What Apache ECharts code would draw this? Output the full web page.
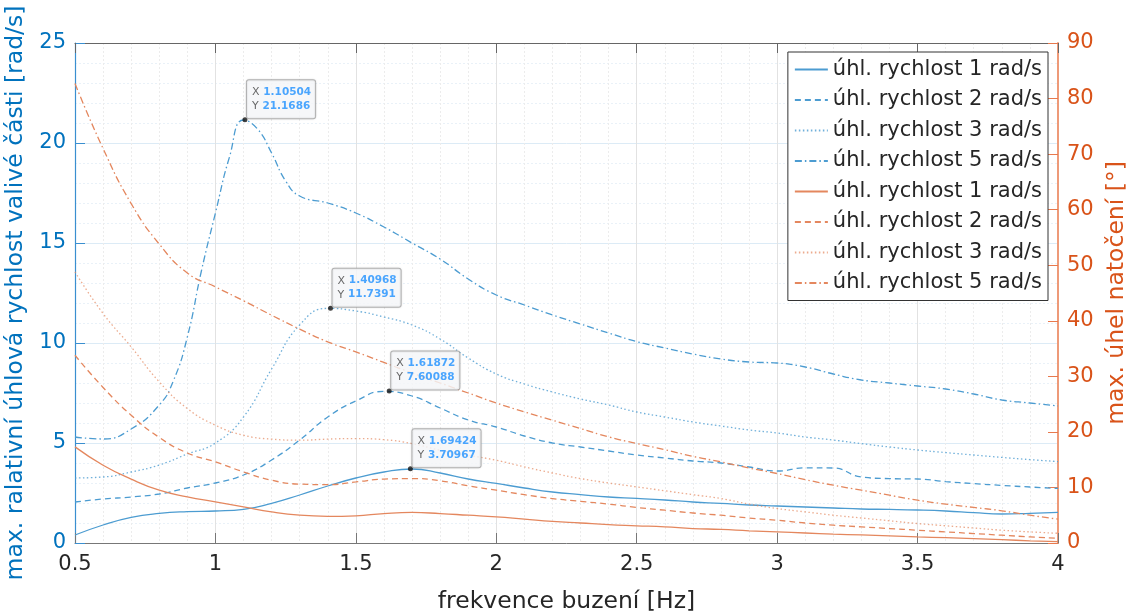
<!DOCTYPE html>
<html>
<head>
<meta charset="utf-8">
<script src="https://cdn.jsdelivr.net/npm/echarts@6/dist/echarts.min.js"></script>
<style>html,body{margin:0;padding:0;background:#fff;overflow:hidden}#c{width:1131px;height:615px}</style>
</head>
<body>
<div id="c"></div>
<script>
// frequency samples [Hz]
const freq = [0.5,0.6,0.7,0.8,0.9,1.0,1.1,1.2,1.3,1.4,1.5,1.6,1.7,1.8,1.9,2.0,2.1,2.2,2.3,2.4,2.5,2.6,2.7,2.8,2.9,3.0,3.1,3.2,3.3,3.4,3.5,3.6,3.7,3.8,3.9,4.0];
// denser samples for the sharp 5 rad/s resonance
const freq5 = [0.5,0.6,0.7,0.8,0.85,0.9,0.95,1.0,1.05,1.1,1.15,1.2,1.25,1.3,1.4,1.5,1.6,1.7,1.8,1.9,2.0,2.1,2.2,2.3,2.4,2.5,2.6,2.7,2.8,2.9,3.0,3.1,3.2,3.3,3.4,3.5,3.6,3.7,3.8,3.9,4.0];

// left axis: max relative angular velocity [rad/s]
const vel1 = [0.4,0.9,1.28,1.48,1.57,1.6,1.68,1.98,2.4,2.85,3.25,3.55,3.7,3.5,3.2,2.98,2.75,2.55,2.42,2.3,2.23,2.15,2.05,1.98,1.9,1.85,1.8,1.75,1.7,1.68,1.65,1.6,1.52,1.45,1.48,1.53];
const vel2 = [2.05,2.2,2.3,2.45,2.75,3.0,3.4,4.15,5.15,6.3,7.1,7.58,7.35,6.75,6.15,5.8,5.35,5.0,4.8,4.6,4.4,4.25,4.1,4.0,3.8,3.6,3.76,3.75,3.3,3.22,3.2,3.07,2.97,2.88,2.8,2.73];
const vel3 = [3.25,3.3,3.55,3.9,4.45,5.0,6.3,8.7,10.9,11.73,11.6,11.3,10.9,10.2,9.25,8.45,7.95,7.55,7.2,6.9,6.55,6.3,6.05,5.85,5.65,5.5,5.3,5.15,4.97,4.8,4.65,4.52,4.4,4.28,4.17,4.07];
const vel5 = [5.3,5.2,5.7,6.9,8.1,10.3,13.6,16.5,19.3,21.15,20.7,19.5,18.1,17.35,17.0,16.5,15.8,15.0,14.2,13.2,12.4,11.9,11.4,10.95,10.5,10.07,9.75,9.45,9.2,9.05,9.0,8.8,8.45,8.15,8.0,7.85,7.7,7.45,7.15,7.0,6.85];

// right axis: max rotation angle [deg]
const ang1 = [17.3,14.0,11.5,9.5,8.3,7.4,6.5,5.6,5.0,4.8,4.9,5.3,5.5,5.3,5.0,4.7,4.3,3.9,3.6,3.3,3.1,2.9,2.6,2.45,2.2,2.0,1.8,1.6,1.45,1.3,1.1,0.95,0.8,0.6,0.4,0.25];
const ang2 = [33.8,28.0,23.0,19.0,16.2,14.6,12.8,11.3,10.6,10.5,11.0,11.5,11.6,11.2,10.3,9.5,8.7,8.0,7.5,7.0,6.4,5.9,5.4,5.0,4.5,4.1,3.6,3.2,2.9,2.6,2.3,2.0,1.7,1.4,1.1,0.85];
const ang3 = [48.8,41.3,35.3,29.0,24.2,21.2,19.4,18.7,18.5,18.7,18.8,18.6,17.9,16.7,15.8,14.9,13.7,12.6,11.6,10.8,10.1,9.4,8.7,8.0,7.0,6.2,5.6,5.0,4.5,4.0,3.5,3.1,2.7,2.3,2.0,1.75];
const ang5 = [82.7,71.0,61.1,53.8,48.6,46.1,43.6,41.0,38.5,36.2,34.4,32.5,30.6,28.8,27.0,25.2,23.6,22.1,20.6,19.1,17.9,16.8,15.6,14.6,13.5,12.5,11.4,10.4,9.5,8.6,7.7,7.0,6.4,5.8,5.0,4.3];

// data tips
const tipX = [1.10504,1.40968,1.61872,1.69424];
const tipY = [21.1686,11.7391,7.60088,3.70967];

const names = ['úhl. rychlost 1 rad/s','úhl. rychlost 2 rad/s','úhl. rychlost 3 rad/s','úhl. rychlost 5 rad/s'];
const xTicks = {min:0.5, max:4, interval:0.5};

const BLUE = '#4c9cd1', ORANGE = '#e4875e';
const dashes = ['solid',[6,4],[1.5,2.5],[7,3,1.5,3]];
const FONT = 'DejaVu Sans';

function pairs(xs, ys){ return xs.map((x,i)=>[x,ys[i]]); }

const series = [];
[[freq,vel1],[freq,vel2],[freq,vel3],[freq5,vel5]].forEach((d,i)=>{
  series.push({name:names[i], type:'line', xAxisIndex:0, yAxisIndex:0, data:pairs(d[0],d[1]), smooth:0.5,
    symbol:'none', lineStyle:{color:BLUE, width:1.3, type:dashes[i], opacity: i===2?0.8:1}, itemStyle:{color:BLUE}, z:3});
});
[ang1,ang2,ang3,ang5].forEach((d,i)=>{
  series.push({name:names[i]+'\u200b', type:'line', xAxisIndex:0, yAxisIndex:1, data:pairs(freq,d), smooth:0.5,
    symbol:'none', lineStyle:{color:ORANGE, width:1.3, type:dashes[i], opacity: i===2?0.7:1}, itemStyle:{color:ORANGE}, z:3});
});
series.push({type:'scatter', xAxisIndex:0, yAxisIndex:0, data: pairs(tipX, tipY),
  symbol:'circle', symbolSize:5, itemStyle:{color:'#111'}, z:10,
  label:{show:true, position:[4.5,-37], align:'left', verticalAlign:'top',
    backgroundColor:'#fbfdff', borderColor:'#a9a9a9', borderWidth:1, borderRadius:2,
    padding:[5,4,5,5], lineHeight:14,
    shadowColor:'rgba(0,0,0,0.15)', shadowBlur:2,
    formatter: p => '{k|X} {v|'+p.value[0]+'}\n{k|Y} {v|'+p.value[1]+'}',
    rich:{k:{color:'#444', fontSize:11, fontFamily:FONT, lineHeight:14},
          v:{color:'#1e90ff', fontSize:10.5, fontWeight:'bold', fontFamily:FONT, lineHeight:14}}}
});

const chart = echarts.init(document.getElementById('c'), null, {renderer:'canvas'});
chart.setOption({
  animation:false,
  backgroundColor:'#ffffff',
  textStyle:{fontFamily:FONT},
  grid:{left:75, right:73, top:43, bottom:72, containLabel:false, outerBoundsMode:'none'},
  legend:{
    data: names.concat(names.map(n=>n+'\u200b')),
    orient:'vertical', right:83, top:52,
    itemWidth:33, itemHeight:20, itemGap:9.5, padding:[7,6,7,6],
    itemStyle:{opacity:0},
    backgroundColor:'#ffffff', borderColor:'#333', borderWidth:1, borderRadius:0,
    textStyle:{fontSize:21, fontFamily:FONT, color:'#262626'},
    z:20
  },
  xAxis:[{
    type:'value', min:xTicks.min, max:xTicks.max, interval:xTicks.interval, position:'bottom',
    name:'frekvence buzení [Hz]', nameLocation:'middle', nameGap:47,
    nameTextStyle:{fontSize:23.5, color:'#262626', fontFamily:FONT},
    axisLine:{show:true, onZero:false, lineStyle:{color:'#777', width:1}},
    axisTick:{show:true, inside:true, length:10, lineStyle:{color:'#777'}},
    axisLabel:{fontSize:21, color:'#262626', margin:11, fontFamily:FONT},
    splitLine:{show:true, lineStyle:{color:'#e2e2e2', width:1}},
    minorTick:{show:false, splitNumber:5},
    minorSplitLine:{show:true, lineStyle:{color:'#ececec', width:1, type:[2,2]}}
  },{
    type:'value', min:xTicks.min, max:xTicks.max, interval:xTicks.interval, position:'top',
    axisLine:{show:true, onZero:false, lineStyle:{color:'#666', width:1}},
    axisTick:{show:true, inside:true, length:10, lineStyle:{color:'#666'}},
    axisLabel:{show:false}, splitLine:{show:false}
  }],
  yAxis:[{
    type:'value', min:0, max:25, interval:5, position:'left',
    name:'max. ralativní úhlová rychlost valivé části [rad/s]', nameLocation:'middle', nameGap:42,
    nameTextStyle:{fontSize:23.5, color:'#0072BD', fontFamily:FONT},
    axisLine:{show:true, onZero:false, lineStyle:{color:'#3a8fd0', width:1.2}},
    axisTick:{show:true, inside:true, length:10, lineStyle:{color:'#3a8fd0'}},
    axisLabel:{fontSize:21, color:'#0072BD', margin:9, fontFamily:FONT},
    splitLine:{show:true, lineStyle:{color:'#dcebf6', width:1}},
    minorTick:{show:false, splitNumber:5},
    minorSplitLine:{show:true, lineStyle:{color:'#e9f1f8', width:1, type:[2,2]}}
  },{
    type:'value', min:0, max:90, interval:10, position:'right',
    name:'max. úhel natočení [°]', nameLocation:'middle', nameGap:34,
    nameTextStyle:{fontSize:23.5, color:'#D95319', fontFamily:FONT},
    axisLine:{show:true, onZero:false, lineStyle:{color:'#ee9a78', width:2}},
    axisTick:{show:true, inside:true, length:10, lineStyle:{color:'#e8794d'}},
    axisLabel:{fontSize:21, color:'#D95319', margin:9, fontFamily:FONT},
    splitLine:{show:false}
  }],
  series: series
});
</script>
</body>
</html>
